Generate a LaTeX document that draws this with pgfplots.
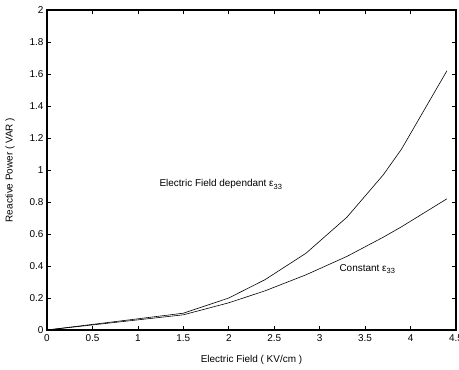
\documentclass[border=0pt]{standalone}
\usepackage{fontspec}
\setmainfont{Liberation Sans}
\usepackage{pgfplots}
\pgfplotsset{compat=1.18}
\newcommand{\eps}{ε\raisebox{-2.5bp}{\fontsize{7.5}{7.5}\selectfont 33}}
\begin{document}
\fontsize{10}{12}\selectfont
\begin{tikzpicture}
\begin{axis}[
  name=ax,
  scale only axis,
  width=409bp, height=320bp,
  xmin=0, xmax=4.5, ymin=0, ymax=2,
  xtick={0,0.5,...,4.5},
  ytick={0,0.2,...,2},
  yticklabel style={/pgf/number format/fixed},
  xticklabel style={/pgf/number format/fixed, yshift=-1.5bp},
  /pgf/number format/assume math mode=true,
  tick align=inside,
  major tick length=4bp,
  axis line style={line width=1.2pt},
  every tick/.style={black, line width=0.6pt},
  tick label style={font=\fontsize{10}{12}\selectfont},
  label style={font=\fontsize{10}{12}\selectfont},
  xlabel={Electric Field ( KV/cm )},
  ylabel={Reactive Power ( VAR )},
  xlabel style={at={(axis description cs:0.5,-0.095)}, anchor=center},
  ylabel style={at={(axis description cs:-0.0905,0.5)}, anchor=center},
  clip=false,
]
\addplot[black, line width=0.6pt] coordinates {
(0,0) (1.5,0.105) (2,0.2) (2.4,0.315) (2.85,0.48) (3.3,0.705) (3.7,0.97) (3.9,1.13) (4.4,1.62)
};
\addplot[black, line width=0.6pt] coordinates {
(0,0) (1.5,0.095) (2,0.17) (2.4,0.245) (2.85,0.345) (3.3,0.46) (3.7,0.58) (3.9,0.645) (4.4,0.82)
};
\node[anchor=west] at (axis cs:1.2,0.91) {Electric Field dependant \eps};
\node[anchor=west] at (axis cs:3.18,0.38) {Constant \eps};
\end{axis}
\pgfresetboundingbox
\useasboundingbox ([shift={(-47bp,-40bp)}]ax.south west) rectangle ([shift={(3bp,10bp)}]ax.north east);
\end{tikzpicture}
\end{document}
